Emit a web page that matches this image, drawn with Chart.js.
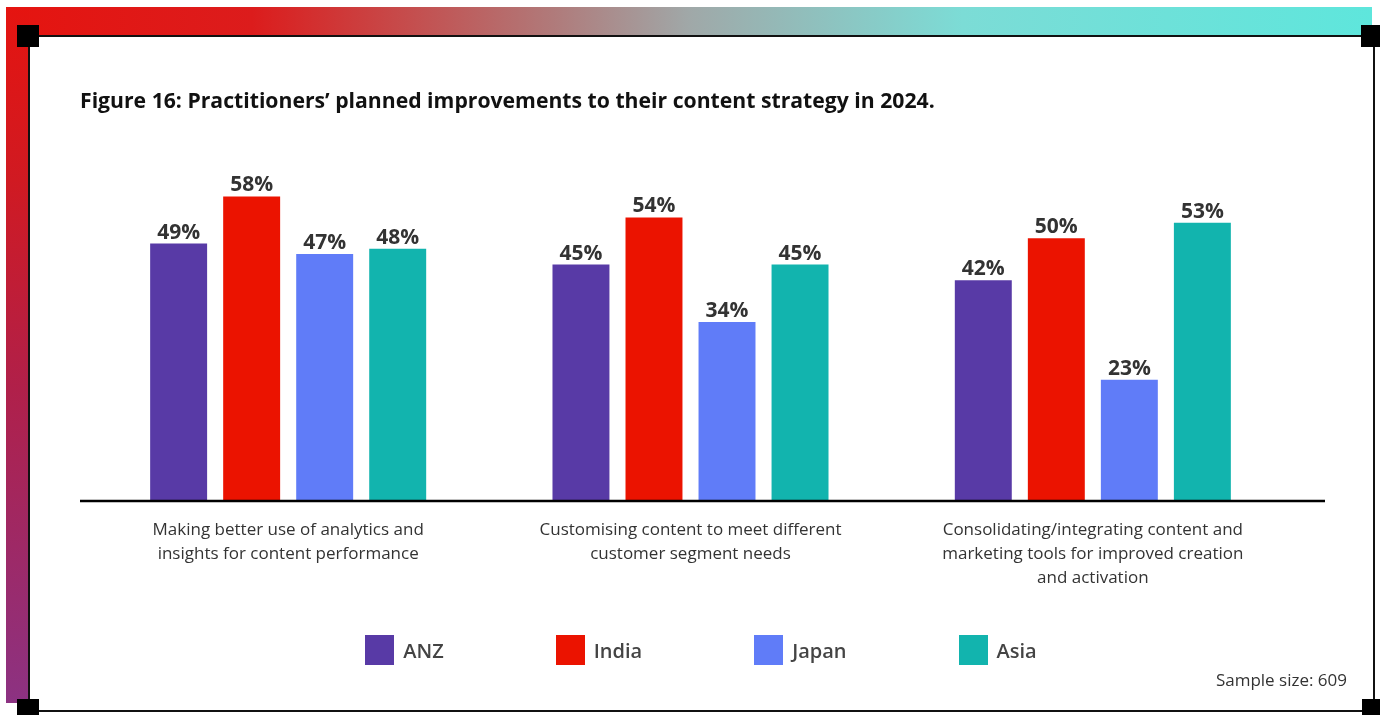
<!DOCTYPE html>
<html>
<head>
<meta charset="utf-8">
<script src="https://cdn.jsdelivr.net/npm/chart.js@4.4.0/dist/chart.umd.min.js"></script>
<style>
  html, body { margin: 0; padding: 0; background: #fff; }
  body { width: 1380px; height: 715px; position: relative; overflow: hidden; font-family: "Open Sans", sans-serif; }
  .band-top { position: absolute; left: 6px; top: 7px; width: 1366px; height: 29px;
    background: linear-gradient(90deg, #e51410 0%, #dc1c1c 18%, #b07a7a 40%, #a0a8a8 50%, #7cdcd6 70%, #5ee6dc 100%); }
  .band-left { position: absolute; left: 6px; top: 7px; width: 23px; height: 696px;
    background: linear-gradient(180deg, #e51410 0%, #d01a22 25%, #b0204a 55%, #8c3282 100%); }
  .box { position: absolute; left: 28px; top: 35px; width: 1343px; height: 673px;
    border: 2.5px solid #111; background: #fff; }
  .corner { position: absolute; width: 22px; height: 22px; background: #000; }
  #wrap { position: absolute; left: 0; top: 0; width: 1380px; height: 715px; }
  .title { position: absolute; left: 80px; top: 85px; font-weight: 700; font-size: 21.2px; color: #111; white-space: nowrap; }
  .legend { position: absolute; left: 0; width: 1402px; top: 635px; display: flex; justify-content: center; gap: 112px; }
  .legend span.item { display: flex; align-items: center; font-size: 20px; font-weight: 600; color: #444; }
  .legend span.sw { display: inline-block; width: 29px; height: 30px; margin-right: 9px; }
  .sample { position: absolute; right: 33px; top: 668px; font-size: 17px; color: #333; }
</style>
</head>
<body>
<div class="band-top"></div>
<div class="band-left"></div>
<div class="box"></div>
<div class="corner" style="left:17px;top:25px"></div>
<div class="corner" style="left:1361px;top:25px"></div>
<div class="corner" style="left:17px;top:699px"></div>
<div class="corner" style="left:1362px;top:699px"></div>
<div id="wrap"><canvas id="grafico"></canvas></div>
<div class="title">Figure 16: Practitioners’ planned improvements to their content strategy in 2024.</div>
<div class="legend" id="legenda"></div>
<div class="sample">Sample size: 609</div>
<script>
"use strict";
// categorie e valori (%)
const categorie = [
    ["Making better use of analytics and", "insights for content performance"],
    ["Customising content to meet different", "customer segment needs"],
    ["Consolidating/integrating content and", "marketing tools for improved creation", "and activation"]
];
const regioni = ["ANZ", "India", "Japan", "Asia"];
const anz = [49, 45, 42];
const india = [58, 54, 50];
const japan = [47, 34, 23];
const asia = [48, 45, 53];
const colori = ["#583aa6", "#eb1300", "#607cf8", "#12b4ae"];

window.onload = function(){
    const serie = [anz, india, japan, asia];
    let datasets = [];
    for (let i = 0; i < regioni.length; i++) {
        datasets.push({
            label: regioni[i],
            data: serie[i],
            backgroundColor: colori[i],
            borderWidth: 0,
            barPercentage: 0.78,
            categoryPercentage: 0.726
        });
    }

    // etichette percentuali sopra le barre + linea di base
    const etichette = {
        id: "etichette",
        afterDatasetsDraw(chart){
            const ctx = chart.ctx;
            ctx.save();
            ctx.font = "bold 21px 'Open Sans'";
            ctx.fillStyle = "#333";
            ctx.textAlign = "center";
            ctx.textBaseline = "alphabetic";
            chart.data.datasets.forEach(function(ds, i){
                chart.getDatasetMeta(i).data.forEach(function(bar, j){
                    ctx.fillText(ds.data[j] + "%", bar.x, bar.y - 5);
                });
            });
            const y0 = chart.scales.y.getPixelForValue(0);
            ctx.strokeStyle = "#000";
            ctx.lineWidth = 2.5;
            ctx.beginPath();
            ctx.moveTo(80, y0 + 1);
            ctx.lineTo(1325, y0 + 1);
            ctx.stroke();
            ctx.restore();
        }
    };

    new Chart(document.getElementById("grafico"), {
        type: "bar",
        data: { labels: categorie, datasets: datasets },
        options: {
            responsive: true,
            maintainAspectRatio: false,
            animation: false,
            layout: { padding: { top: 186, left: 87, right: 86, bottom: 107 } },
            plugins: { legend: { display: false }, tooltip: { enabled: false } },
            scales: {
                x: {
                    grid: { display: false, drawTicks: false },
                    border: { display: false },
                    ticks: {
                        padding: 18,
                        color: "#333",
                        font: { family: "'Open Sans'", size: 17, lineHeight: "24px" },
                        maxRotation: 0
                    }
                },
                y: { display: false, min: 0, max: 60 }
            }
        },
        plugins: [etichette]
    });

    // legenda html
    const leg = document.getElementById("legenda");
    for (let i = 0; i < regioni.length; i++) {
        const item = document.createElement("span");
        item.className = "item";
        const sw = document.createElement("span");
        sw.className = "sw";
        sw.style.background = colori[i];
        item.appendChild(sw);
        item.appendChild(document.createTextNode(regioni[i]));
        leg.appendChild(item);
    }
};
</script>
</body>
</html>
